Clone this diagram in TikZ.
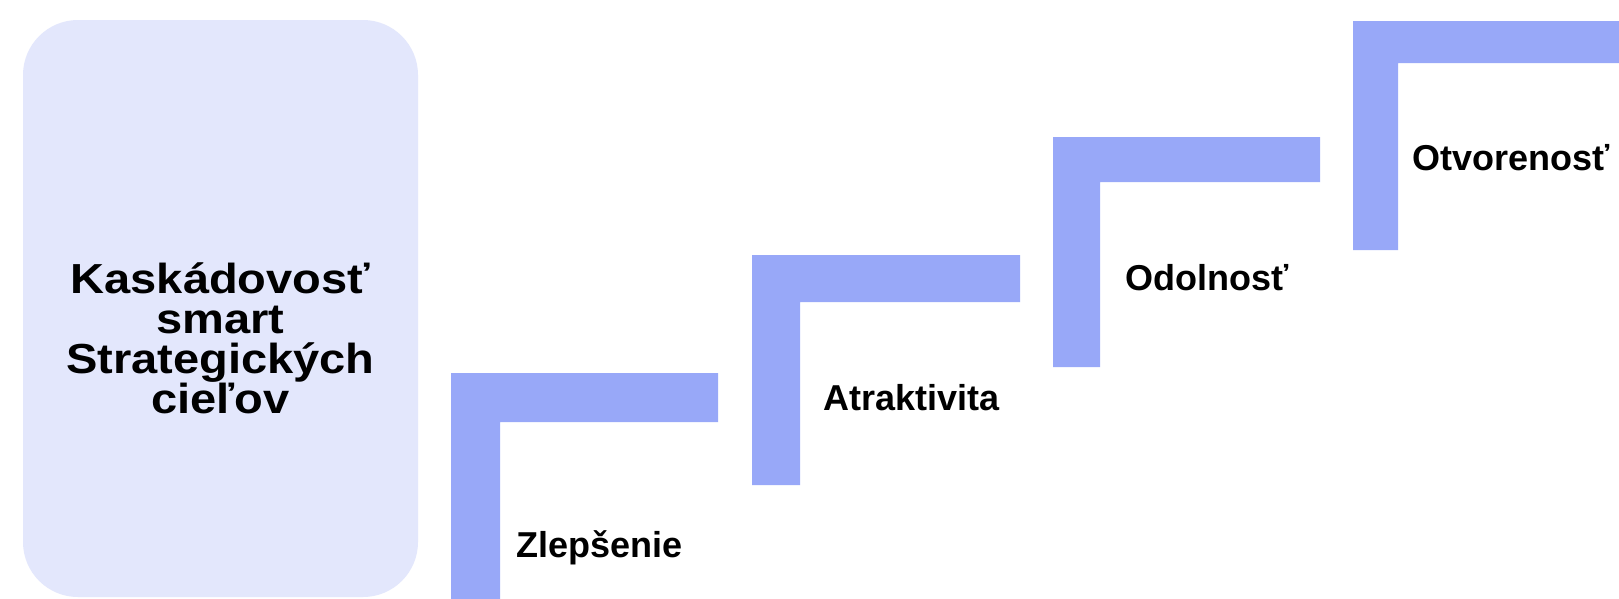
\documentclass[tikz,border=0pt]{standalone}
\usepackage{fontspec}
\setmainfont{Liberation Sans}
\definecolor{stepblue}{RGB}{152,168,248}
\definecolor{boxfill}{RGB}{227,231,252}
\newcommand{\tline}[1]{\scalebox{1.12}[1]{#1}}
\begin{document}
\begin{tikzpicture}[x=1pt,y=-1pt,
  stepshape/.style={fill=stepblue, draw=none},
  lbl/.style={anchor=base west, inner sep=0pt, font=\fontsize{36}{40}\selectfont\bfseries},
  titletext/.style={align=center, inner sep=0pt, font=\fontsize{42}{40}\selectfont\bfseries}]
\useasboundingbox (0,0) rectangle (1619,598);
\fill[white] (0,0) rectangle (1619,598);
% goal box
\fill[boxfill, rounded corners=55pt] (23,20) rectangle (418,597);
\node[titletext] (title) at (220.5,338) {\tline{Kaskádovosť}\\\tline{smart}\\\tline{Strategických}\\\tline{cieľov}};
% steps
\fill[stepshape] (451,373) -- (718,373) -- (718,422) -- (500,422) -- (500,600) -- (451,600) -- cycle;
\fill[stepshape] (752,255) -- (1020,255) -- (1020,302) -- (800,302) -- (800,485) -- (752,485) -- cycle;
\fill[stepshape] (1053,137) -- (1320,137) -- (1320,182) -- (1100,182) -- (1100,367) -- (1053,367) -- cycle;
\fill[stepshape] (1353,21) -- (1621,21) -- (1621,63) -- (1398,63) -- (1398,250) -- (1353,250) -- cycle;
% labels
\node[lbl] (s1) at (516,557) {Zlepšenie};
\node[lbl] (s2) at (823,410) {Atraktivita};
\node[lbl] (s3) at (1125,290) {Odolnosť};
\node[lbl] (s4) at (1412,170) {Otvorenosť};
\end{tikzpicture}
\end{document}
